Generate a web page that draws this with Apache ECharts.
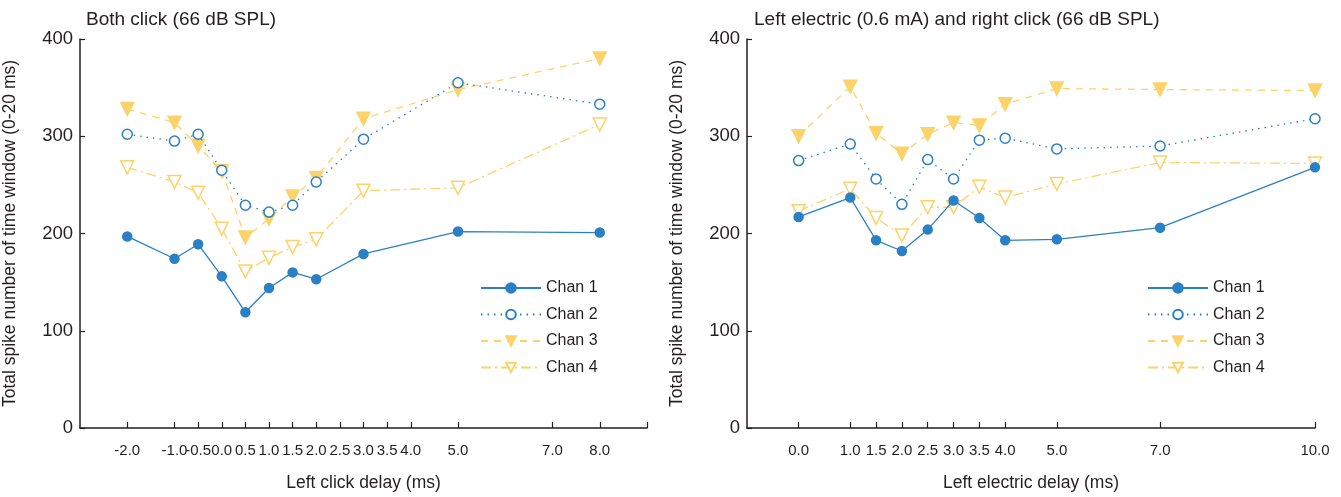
<!DOCTYPE html>
<html>
<head>
<meta charset="utf-8">
<script src="https://cdn.jsdelivr.net/npm/echarts@6/dist/echarts.min.js"></script>
<style>
  html, body { margin: 0; padding: 0; background: #fff; }
  #chart { width: 1341px; height: 497px; }
</style>
</head>
<body>
<div id="chart"></div>
<script>
// left panel: both click
const clickDelay = [-2.0, -1.0, -0.5, 0.0, 0.5, 1.0, 1.5, 2.0, 3.0, 5.0, 8.0];
const clickChan1 = [197, 174, 189, 156, 119, 144, 160, 153, 179, 202, 201];
const clickChan2 = [302, 295, 302, 265, 229, 222, 229, 253, 297, 355, 333];
const clickChan3 = [328, 314, 290, 264, 196, 215, 238, 257, 318, 348, 380];
const clickChan4 = [268, 253, 242, 205, 161, 175, 186, 194, 244, 247, 312];
const clickTicks = [-2.0, -1.0, -0.5, 0.0, 0.5, 1.0, 1.5, 2.0, 2.5, 3.0, 3.5, 4.0, 5.0, 7.0, 8.0];

// right panel: left electric + right click
const elecDelay = [0.0, 1.0, 1.5, 2.0, 2.5, 3.0, 3.5, 4.0, 5.0, 7.0, 10.0];
const elecChan1 = [217, 237, 193, 182, 204, 234, 216, 193, 194, 206, 268];
const elecChan2 = [275, 292, 256, 230, 276, 256, 296, 298, 287, 290, 318];
const elecChan3 = [300, 351, 303, 282, 302, 314, 311, 333, 349, 348, 347];
const elecChan4 = [223, 246, 216, 198, 227, 227, 248, 237, 251, 273, 272];
const elecTicks = [0.0, 1.0, 1.5, 2.0, 2.5, 3.0, 3.5, 4.0, 5.0, 7.0, 10.0];

const chanNames = ["Chan 1", "Chan 2", "Chan 3", "Chan 4"];

const blue = "#2b80c5";
const yellow = "#fcd36a";
const ink = "#231f20";
const font = "Liberation Sans";

const chanStyle = [
  { color: blue, symbol: "circle", size: 9, rotate: 0, line: "solid", fill: blue },
  { color: blue, symbol: "circle", size: 10, rotate: 0, line: [1.5, 5], fill: "#fff" },
  { color: yellow, symbol: "triangle", size: 13, rotate: 180, line: [7, 6], fill: yellow },
  { color: yellow, symbol: "triangle", size: 13, rotate: 180, line: [10, 4, 2, 4], fill: "#fff" },
];

const pair = (xs, ys) => xs.map((x, i) => [x, ys[i]]);

function makeSeries(idx, xs, chans) {
  return chans.map((ys, k) => {
    const s = chanStyle[k];
    return {
      name: chanNames[k],
      type: "line",
      xAxisIndex: idx,
      yAxisIndex: idx,
      data: pair(xs, ys),
      symbol: s.symbol,
      symbolSize: s.size,
      symbolRotate: s.rotate,
      showAllSymbol: true,
      lineStyle: { color: s.color, width: 1.3, type: s.line },
      itemStyle: { color: s.fill, borderColor: s.color, borderWidth: 1.5 },
      emphasis: { disabled: true },
      animation: false,
      z: 10 - k,
    };
  });
}

function xAxis(idx, min, max, labels, ticks, name) {
  return {
    type: "value",
    gridIndex: idx,
    min, max,
    name,
    nameLocation: "middle",
    nameGap: 46,
    nameTextStyle: { fontFamily: font, fontSize: 17.5, color: ink },
    axisLine: { onZero: false, lineStyle: { color: ink, width: 1.5 } },
    axisTick: { inside: true, length: 6, customValues: ticks, lineStyle: { color: ink, width: 1.2 } },
    axisLabel: {
      customValues: labels,
      formatter: (v) => v.toFixed(1),
      fontFamily: font, fontSize: 15, color: ink, margin: 15,
    },
    splitLine: { show: false },
  };
}

function yAxis(idx) {
  return {
    type: "value",
    gridIndex: idx,
    min: 0, max: 400, interval: 100,
    name: "Total spike number of time window (0-20 ms)",
    nameLocation: "middle",
    nameGap: 61,
    nameTextStyle: { fontFamily: font, fontSize: 17.5, color: ink },
    axisLine: { show: true, onZero: false, lineStyle: { color: ink, width: 1.5 } },
    axisTick: { show: true, inside: true, length: 5, lineStyle: { color: ink, width: 1.2 } },
    axisLabel: { fontFamily: font, fontSize: 18.5, color: ink, margin: 7 },
    splitLine: { show: false },
  };
}

function legend(left) {
  return {
    data: chanNames,
    orient: "vertical",
    left, top: 280,
    padding: 0,
    itemWidth: 60, itemHeight: 12, itemGap: 10.5,
    textStyle: { fontFamily: font, fontSize: 16, color: ink },
    selectedMode: false,
  };
}

const chart = echarts.init(document.getElementById("chart"));
chart.setOption({
  backgroundColor: "#fff",
  animation: false,
  title: [
    { text: "Both click (66 dB SPL)", left: 81, top: 5,
      textStyle: { fontFamily: font, fontSize: 19, fontWeight: "normal", color: ink } },
    { text: "Left electric (0.6 mA) and right click (66 dB SPL)", left: 749, top: 5,
      textStyle: { fontFamily: font, fontSize: 19, fontWeight: "normal", color: ink } },
  ],
  legend: [legend(480), legend(1147)],
  grid: [
    { left: 80, top: 39, width: 567, height: 389, outerBoundsMode: "none" },
    { left: 747, top: 39, width: 568, height: 389, outerBoundsMode: "none" },
  ],
  xAxis: [
    xAxis(0, -3, 9, clickTicks, clickTicks.concat([9]), "Left click delay (ms)"),
    xAxis(1, -1, 10, elecTicks, elecTicks, "Left electric delay (ms)"),
  ],
  yAxis: [yAxis(0), yAxis(1)],
  series: [
    ...makeSeries(0, clickDelay, [clickChan1, clickChan2, clickChan3, clickChan4]),
    ...makeSeries(1, elecDelay, [elecChan1, elecChan2, elecChan3, elecChan4]),
  ],
});
</script>
</body>
</html>
